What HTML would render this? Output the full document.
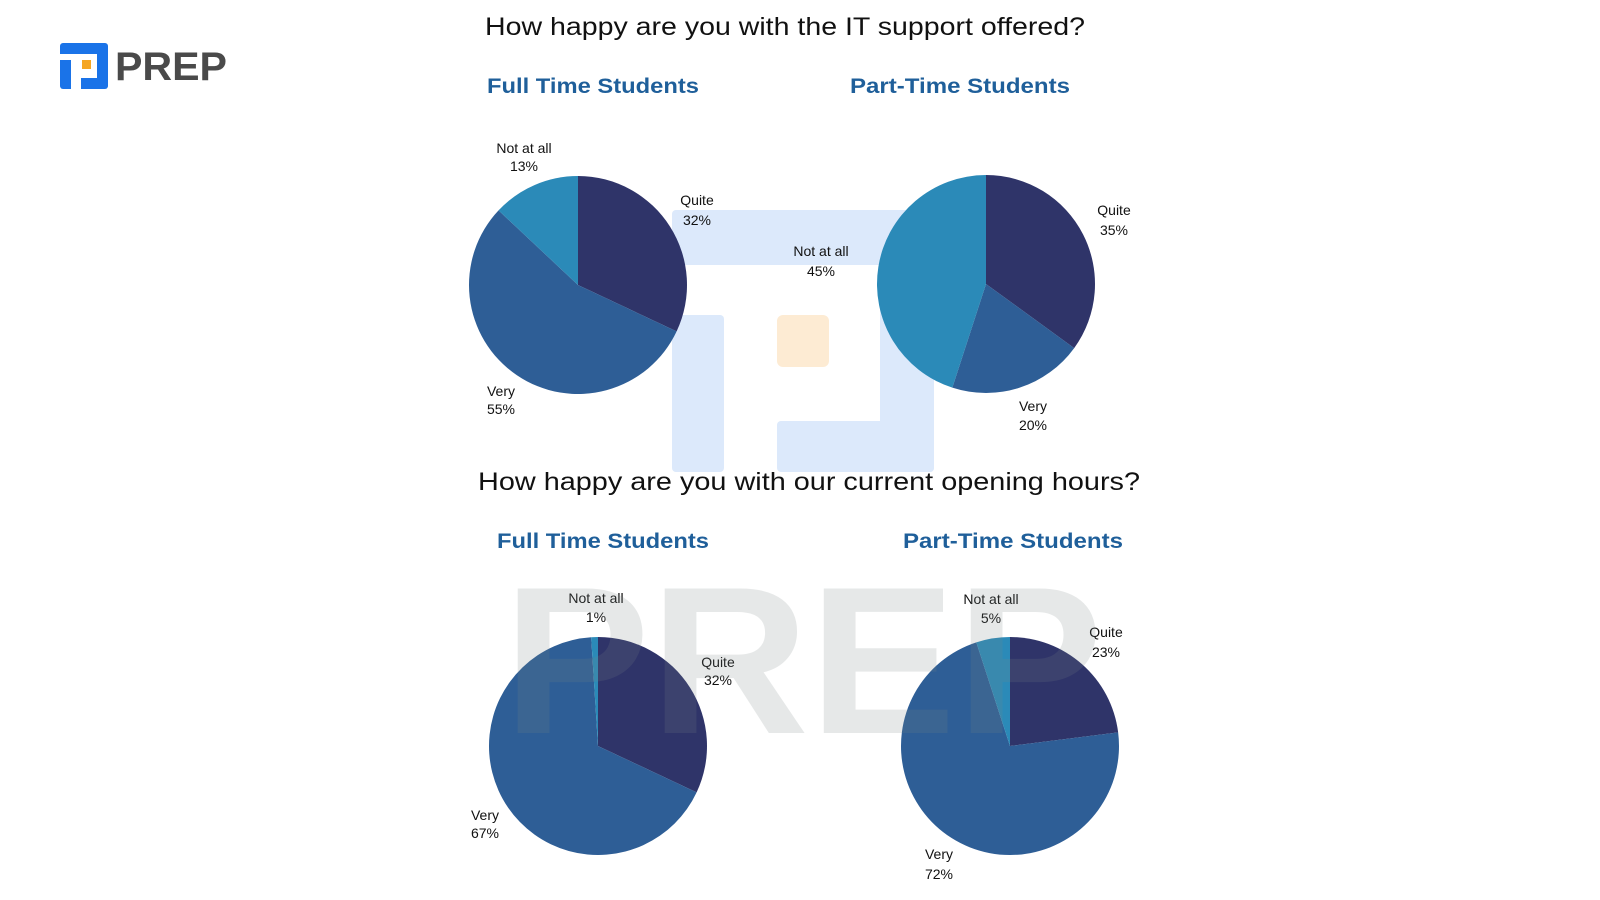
<!DOCTYPE html>
<html><head><meta charset="utf-8"><style>
html,body{margin:0;padding:0;background:#fff;}
svg{display:block;font-family:"Liberation Sans",sans-serif;}
</style></head><body>
<svg id="s" width="1600" height="900" viewBox="0 0 1600 900">
<rect width="1600" height="900" fill="#fff"/>
<!-- logo -->
<rect x="60" y="43" width="48" height="46" rx="3" fill="#1a73e8"/>
<rect x="71" y="54" width="26" height="24" fill="#fff"/>
<rect x="71" y="60" width="10" height="29" fill="#fff"/>
<rect x="60" y="54" width="11" height="6" fill="#fff"/>
<rect x="82" y="60" width="9" height="9" fill="#f5a623"/>
<text x="115" y="80" font-size="40" font-weight="bold" fill="#4a4a4a" textLength="112" lengthAdjust="spacingAndGlyphs">PREP</text>
<!-- blue watermark behind -->
<g fill="#dce9fb">
<rect x="672" y="210" width="262" height="55" rx="4"/>
<rect x="672" y="315" width="52" height="157" rx="4"/>
<rect x="880" y="210" width="54" height="262" rx="4"/>
<rect x="777" y="421" width="157" height="51" rx="4"/>
</g>
<rect x="777" y="315" width="52" height="52" rx="6" fill="#fdebd3"/>
<!-- titles -->
<text x="785" y="35" font-size="25" text-anchor="middle" fill="#111" textLength="600" lengthAdjust="spacingAndGlyphs">How happy are you with the IT support offered?</text>
<text x="593" y="93" font-size="21" font-weight="bold" text-anchor="middle" fill="#1f5f9a" textLength="212" lengthAdjust="spacingAndGlyphs">Full Time Students</text>
<text x="960" y="93" font-size="21" font-weight="bold" text-anchor="middle" fill="#1f5f9a" textLength="220" lengthAdjust="spacingAndGlyphs">Part-Time Students</text>
<text x="809" y="490" font-size="25" text-anchor="middle" fill="#111" textLength="662" lengthAdjust="spacingAndGlyphs">How happy are you with our current opening hours?</text>
<text x="603" y="548" font-size="21" font-weight="bold" text-anchor="middle" fill="#1f5f9a" textLength="212" lengthAdjust="spacingAndGlyphs">Full Time Students</text>
<text x="1013" y="548" font-size="21" font-weight="bold" text-anchor="middle" fill="#1f5f9a" textLength="220" lengthAdjust="spacingAndGlyphs">Part-Time Students</text>
<g id="pies"></g>
<g font-size="14" fill="#111" text-anchor="middle">
<text x="524" y="153">Not at all</text><text x="524" y="171">13%</text>
<text x="697" y="205">Quite</text><text x="697" y="225">32%</text>
<text x="501" y="396">Very</text><text x="501" y="414">55%</text>
<text x="821" y="256">Not at all</text><text x="821" y="276">45%</text>
<text x="1114" y="215">Quite</text><text x="1114" y="235">35%</text>
<text x="1033" y="411">Very</text><text x="1033" y="430">20%</text>
<text x="596" y="603">Not at all</text><text x="596" y="622">1%</text>
<text x="718" y="667">Quite</text><text x="718" y="685">32%</text>
<text x="485" y="820">Very</text><text x="485" y="838">67%</text>
<text x="991" y="604">Not at all</text><text x="991" y="623">5%</text>
<text x="1106" y="637">Quite</text><text x="1106" y="657">23%</text>
<text x="939" y="859">Very</text><text x="939" y="879">72%</text>
</g>
<text x="503" y="733" font-size="210" font-weight="bold" fill="#7a8585" opacity="0.18" textLength="600" lengthAdjust="spacingAndGlyphs">PREP</text>
</svg>
<script>
var g=document.getElementById('pies');
var C=['#2f3469','#2e5e96','#2b8ab8'];
function pie(cx,cy,r,vals){var a=0;vals.forEach(function(v,i){var a0=a,a1=a+v/100*2*Math.PI;a=a1;
var x0=cx+r*Math.sin(a0),y0=cy-r*Math.cos(a0),x1=cx+r*Math.sin(a1),y1=cy-r*Math.cos(a1);
var p=document.createElementNS('http://www.w3.org/2000/svg','path');
p.setAttribute('d','M'+cx+','+cy+'L'+x0+','+y0+'A'+r+','+r+' 0 '+((a1-a0)>Math.PI?1:0)+' 1 '+x1+','+y1+'Z');
p.setAttribute('fill',C[i]);g.appendChild(p);});}
pie(578,285,109,[32,55,13]);
pie(986,284,109,[35,20,45]);
pie(598,746,109,[32,67,1]);
pie(1010,746,109,[23,72,5]);
</script>
</body></html>
